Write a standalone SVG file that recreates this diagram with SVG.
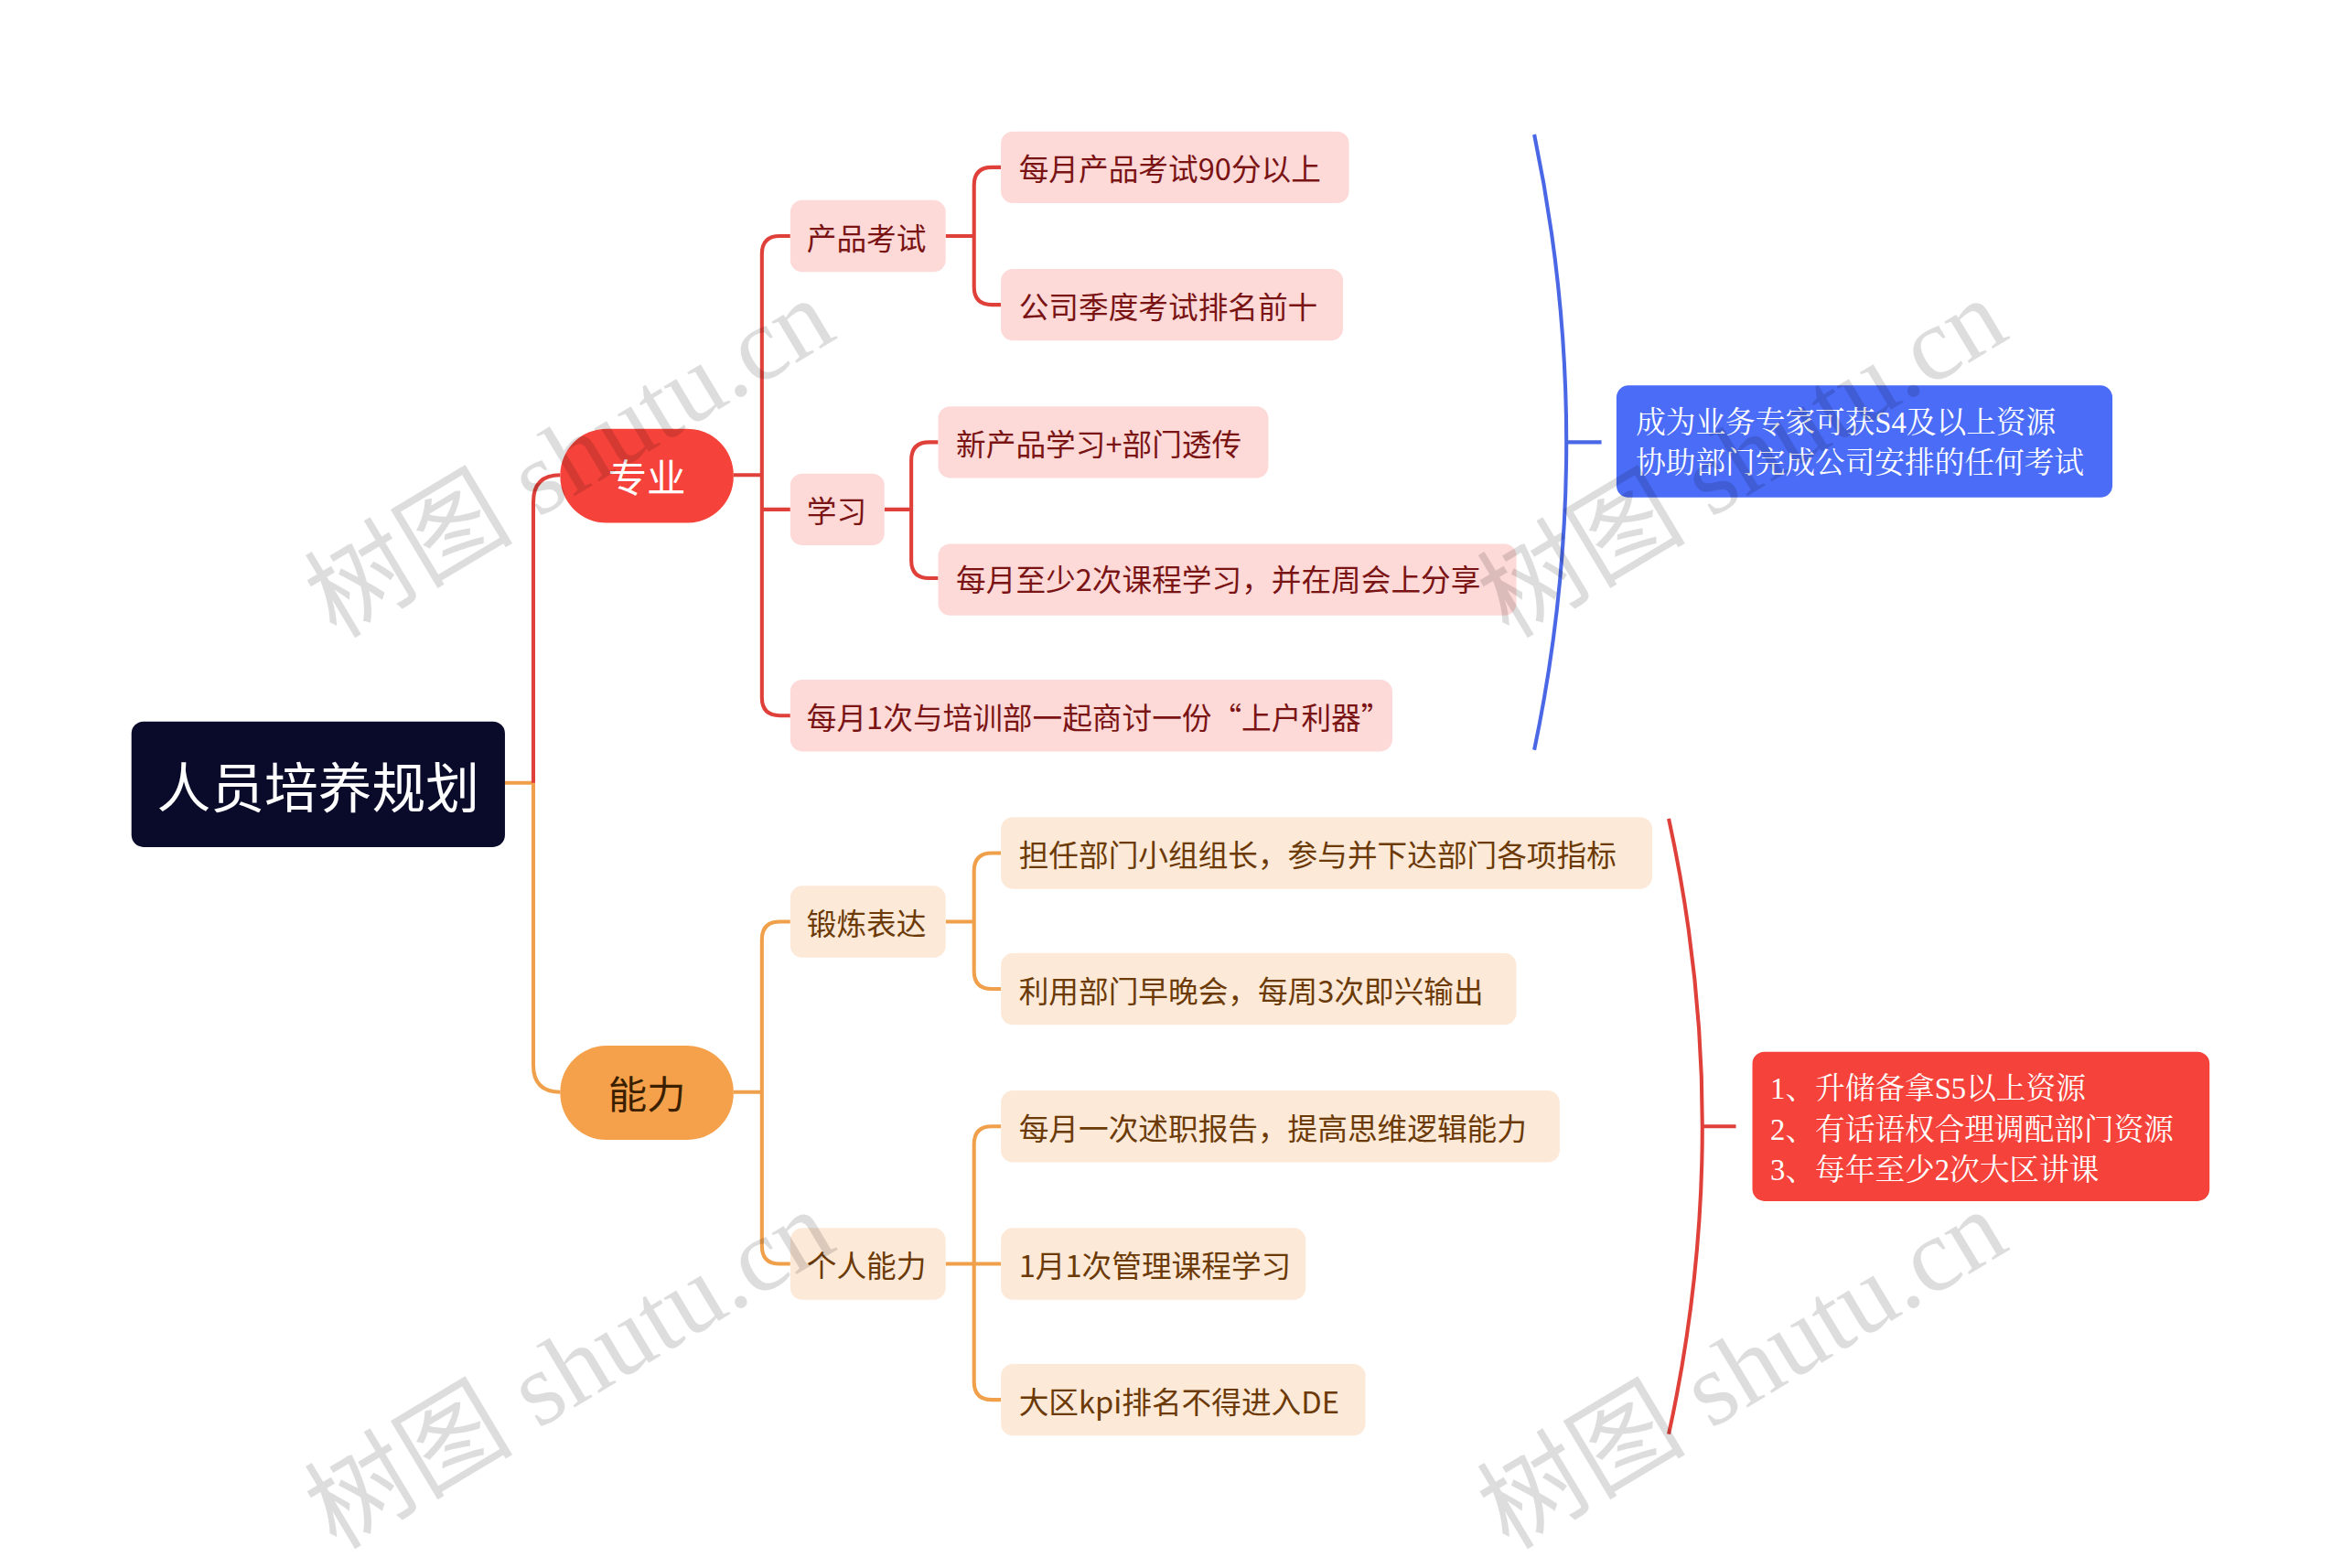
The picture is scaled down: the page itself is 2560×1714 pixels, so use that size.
<svg xmlns="http://www.w3.org/2000/svg" width="2560" height="1714" viewBox="0 0 2560 1714">
<style>
.t{font-family:"Noto Sans CJK SC","Noto Sans",sans-serif;font-size:20px;dominant-baseline:central}
.s{font-family:"Liberation Serif","Noto Serif CJK SC","Noto Sans CJK SC",serif;font-size:20px;fill:#fff;dominant-baseline:central}
.pk{fill:#fdd9d8}.pt{fill:#7a1414}
.or{fill:#fde9d8}.ot{fill:#6b3a06}
.r{fill:none;stroke:#e0403a;stroke-width:2.5}
.o{fill:none;stroke:#f0a04a;stroke-width:2.5}
.w{font-family:"Liberation Serif","Noto Sans CJK SC",serif;font-size:70px;fill:#000;opacity:0.13}
</style>
<rect width="2560" height="1714" fill="#fff"/>
<g transform="scale(1.633)">
<g id="connectors">
<path class="o" d="M338 524H357V713Q357 731 375 731"/>
<path class="r" d="M357 524V336Q357 318 375 318"/>
<path class="r" d="M491 318H510M529 158H522Q510 158 510 170V467Q510 479 522 479H529M510 341H529"/>
<path class="r" d="M633 158H652M670 112H664Q652 112 652 124V192Q652 204 664 204H670"/>
<path class="r" d="M592 341H610M628 296H622Q610 296 610 308V375Q610 387 622 387H628"/>
<path class="o" d="M491 731H510M529 617H522Q510 617 510 629V834Q510 846 522 846H529"/>
<path class="o" d="M633 617H652M670 571H664Q652 571 652 583V650Q652 662 664 662H670"/>
<path class="o" d="M633 846H670M670 754H664Q652 754 652 766V925Q652 937 664 937H670"/>
<path fill="none" stroke="#4a68e6" stroke-width="2.5" d="M1027 90Q1070 296 1027 502M1049 296H1072"/>
<path fill="none" stroke="#e0403a" stroke-width="2.5" d="M1117 548Q1162 754 1117 960M1140 754H1162"/>
</g>
<g id="root"><rect x="88" y="483" width="250" height="84" rx="8" fill="#0a0a2a"/><text class="t" x="213" y="525" fill="#fff" text-anchor="middle" style="font-size:36px">人员培养规划</text></g>
<g id="zhuanye"><rect x="375" y="287" width="116" height="63" rx="31" fill="#f5423a"/><text class="t" x="433" y="318" fill="#fff" text-anchor="middle" style="font-size:26px">专业</text></g>
<g id="nengli"><rect x="375" y="700" width="116" height="63" rx="31" fill="#f5a04a"/><text class="t" x="433" y="731" fill="#3a1f00" text-anchor="middle" style="font-size:26px">能力</text></g>
<g id="n1"><rect class="pk" x="529" y="134" width="104" height="48" rx="8"/><text class="t pt" x="540" y="158">产品考试</text></g>
<g id="n2"><rect class="pk" x="529" y="317" width="63" height="48" rx="8"/><text class="t pt" x="540" y="341">学习</text></g>
<g id="n3"><rect class="pk" x="529" y="455" width="403" height="48" rx="8"/><text class="t pt" x="540" y="479">每月1次与培训部一起商讨一份“上户利器”</text></g>
<g id="n4"><rect class="pk" x="670" y="88" width="233" height="48" rx="8"/><text class="t pt" x="682" y="112">每月产品考试90分以上</text></g>
<g id="n5"><rect class="pk" x="670" y="180" width="229" height="48" rx="8"/><text class="t pt" x="682" y="204">公司季度考试排名前十</text></g>
<g id="n6"><rect class="pk" x="628" y="272" width="221" height="48" rx="8"/><text class="t pt" x="640" y="296">新产品学习+部门透传</text></g>
<g id="n7"><rect class="pk" x="628" y="364" width="387" height="48" rx="8"/><text class="t pt" x="640" y="387">每月至少2次课程学习，并在周会上分享</text></g>
<g id="s1"><rect x="1082" y="258" width="332" height="75" rx="8" fill="#4a6cf7"/><text class="s" x="1095" y="283">成为业务专家可获S4及以上资源</text><text class="s" x="1095" y="310">协助部门完成公司安排的任何考试</text></g>
<g id="m1"><rect class="or" x="529" y="593" width="104" height="48" rx="8"/><text class="t ot" x="540" y="617">锻炼表达</text></g>
<g id="m2"><rect class="or" x="529" y="822" width="104" height="48" rx="8"/><text class="t ot" x="540" y="846">个人能力</text></g>
<g id="m3"><rect class="or" x="670" y="547" width="436" height="48" rx="8"/><text class="t ot" x="682" y="571">担任部门小组组长，参与并下达部门各项指标</text></g>
<g id="m4"><rect class="or" x="670" y="638" width="345" height="48" rx="8"/><text class="t ot" x="682" y="662">利用部门早晚会，每周3次即兴输出</text></g>
<g id="m5"><rect class="or" x="670" y="730" width="374" height="48" rx="8"/><text class="t ot" x="682" y="754">每月一次述职报告，提高思维逻辑能力</text></g>
<g id="m6"><rect class="or" x="670" y="822" width="204" height="48" rx="8"/><text class="t ot" x="682" y="846">1月1次管理课程学习</text></g>
<g id="m7"><rect class="or" x="670" y="913" width="244" height="48" rx="8"/><text class="t ot" x="682" y="937">大区kpi排名不得进入DE</text></g>
<g id="s2"><rect x="1173" y="704" width="306" height="100" rx="8" fill="#f5423a"/><text class="s" x="1185" y="729">1、升储备拿S5以上资源</text><text class="s" x="1185" y="756">2、有话语权合理调配部门资源</text><text class="s" x="1185" y="783">3、每年至少2次大区讲课</text></g>
<g id="watermarks">
<text class="w" transform="translate(225,428) rotate(-31)">树图 shutu.cn</text>
<text class="w" transform="translate(225,1038) rotate(-31)">树图 shutu.cn</text>
<text class="w" transform="translate(1010,428) rotate(-31)">树图 shutu.cn</text>
<text class="w" transform="translate(1010,1038) rotate(-31)">树图 shutu.cn</text>
</g>
</g>
</svg>
